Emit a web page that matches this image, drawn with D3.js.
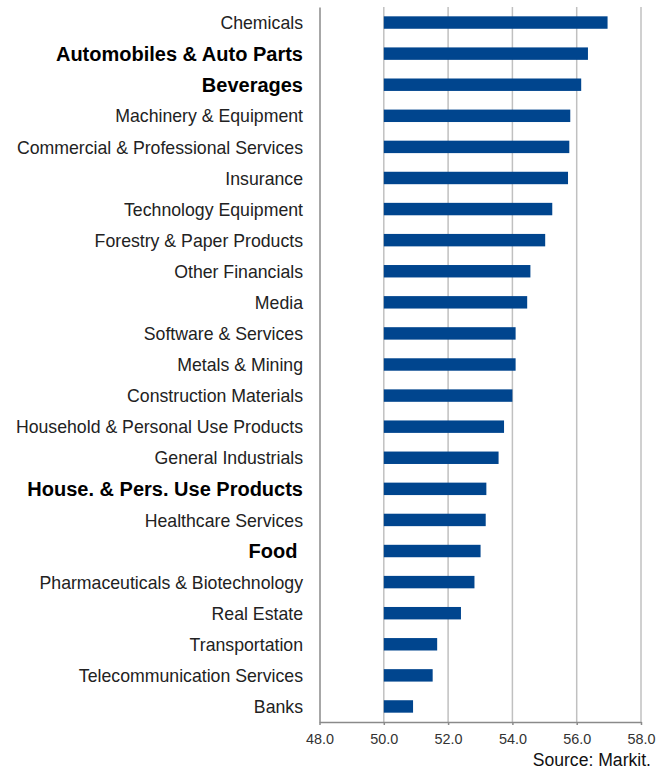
<!DOCTYPE html>
<html>
<head>
<meta charset="utf-8">
<script src="https://cdn.jsdelivr.net/npm/d3@7"></script>
<style>
  body { margin: 0; background: #fff; }
  text { font-family: "Liberation Sans", Arial, sans-serif; }
</style>
</head>
<body>
<div class="canvas"></div>
<script>
// categories top to bottom
const categories = [
  'Chemicals', 'Automobiles & Auto Parts', 'Beverages', 'Machinery & Equipment',
  'Commercial & Professional Services', 'Insurance', 'Technology Equipment',
  'Forestry & Paper Products', 'Other Financials', 'Media', 'Software & Services',
  'Metals & Mining', 'Construction Materials', 'Household & Personal Use Products',
  'General Industrials', 'House. & Pers. Use Products', 'Healthcare Services',
  'Food ', 'Pharmaceuticals & Biotechnology', 'Real Estate', 'Transportation',
  'Telecommunication Services', 'Banks'
];
const values = [
  56.96, 56.35, 56.14, 55.80, 55.77, 55.73, 55.24, 55.02, 54.56, 54.46, 54.10,
  54.10, 54.00, 53.74, 53.57, 53.19, 53.17, 53.01, 52.82, 52.40, 51.66, 51.52, 50.91
];
const boldCategories = ['Automobiles & Auto Parts', 'Beverages', 'House. & Pers. Use Products', 'Food '];
const tickValues = [48, 50, 52, 54, 56, 58];

const data = categories.map((c, i) => ({name: c, value: values[i]}));

const width = 670, height = 769;
const margin = {top: 7, right: 29, bottom: 47, left: 319.5};
const graphWidth = width - margin.left - margin.right;
const graphHeight = height - margin.top - margin.bottom;

const svg = d3.select('.canvas')
  .append('svg')
    .attr('width', width)
    .attr('height', height);

const graph = svg.append('g')
  .attr('transform', `translate(${margin.left}, ${margin.top})`);

const x = d3.scaleLinear()
  .domain([48, 58])
  .range([0, graphWidth]);

const y = d3.scaleBand()
  .domain(categories)
  .range([0, graphHeight])
  .paddingInner(0.6)
  .paddingOuter(0.3);

// gridlines
graph.selectAll('line.grid')
  .data(tickValues.slice(1))
  .enter()
  .append('line')
    .attr('class', 'grid')
    .attr('x1', d => x(d)).attr('x2', d => x(d))
    .attr('y1', 0).attr('y2', graphHeight)
    .attr('stroke', '#c0c0c0')
    .attr('stroke-width', 1.5);

// bars
graph.selectAll('rect')
  .data(data)
  .enter()
  .append('rect')
    .attr('x', x(50))
    .attr('y', d => y(d.name))
    .attr('width', d => x(d.value) - x(50))
    .attr('height', y.bandwidth())
    .attr('fill', '#00458e');

// x axis
const xAxis = d3.axisBottom(x)
  .tickValues(tickValues)
  .tickFormat(d3.format('.1f'))
  .tickSize(3)
  .tickSizeOuter(0);

const xAxisGroup = graph.append('g')
  .attr('transform', `translate(0, ${graphHeight})`)
  .call(xAxis);
xAxisGroup.select('.domain').attr('stroke', '#8a8a8a').attr('stroke-width', 1.5);
xAxisGroup.selectAll('.tick line').attr('stroke', '#8a8a8a').attr('stroke-width', 1.5);
xAxisGroup.selectAll('.tick text')
  .attr('font-size', 14.4)
  .attr('font-family', '"Liberation Sans", Arial, sans-serif')
  .attr('fill', '#333')
  .attr('y', 11.5);

// y axis
const yAxis = d3.axisLeft(y).tickSize(0).tickPadding(16.5);
const yAxisGroup = graph.append('g').call(yAxis);
yAxisGroup.select('.domain').attr('stroke', '#8a8a8a').attr('stroke-width', 1.5);
yAxisGroup.selectAll('.tick text')
  .attr('font-family', '"Liberation Sans", Arial, sans-serif')
  .style('white-space', 'pre')
  .attr('y', 1)
  .attr('font-size', d => boldCategories.includes(d) ? 20 : 17.7)
  .attr('font-weight', d => boldCategories.includes(d) ? 'bold' : 'normal')
  .attr('fill', d => boldCategories.includes(d) ? '#000' : '#222');

// source note
svg.append('text')
  .attr('x', 651)
  .attr('y', 765.5)
  .attr('text-anchor', 'end')
  .attr('font-size', 17.6)
  .attr('fill', '#111')
  .text('Source: Markit.');
</script>
</body>
</html>
